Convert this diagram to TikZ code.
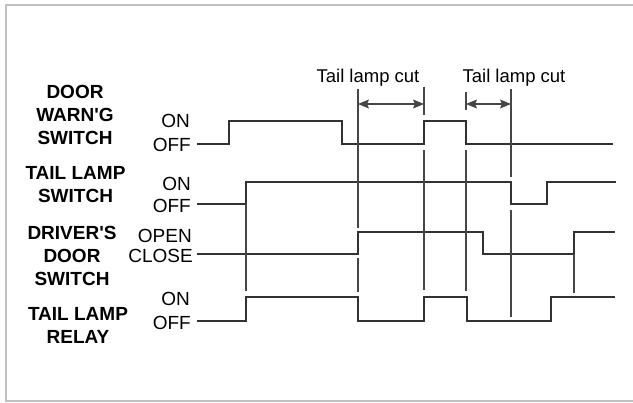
\documentclass[tikz,border=0pt]{standalone}
\usepackage{fontspec}
\setmainfont{Liberation Sans}
\usetikzlibrary{arrows.meta}
\definecolor{wave}{RGB}{50,50,50}
\definecolor{guide}{RGB}{70,70,70}
\definecolor{frame}{RGB}{192,192,192}

\begin{document}
\begin{tikzpicture}[x=1pt, y=-1pt, >={Stealth[length=11pt, width=9pt, inset=2pt]},
  sig/.style={wave, line width=1.5pt},
  gline/.style={guide, line width=1.1pt},
  sigtitle/.style={font=\bfseries\fontsize{19}{23}\selectfont, align=center, inner sep=0pt},
  statelbl/.style={font=\fontsize{19}{23}\selectfont, anchor=base east, inner sep=0pt},
  cutlbl/.style={font=\fontsize{18.5}{22}\selectfont, anchor=base, inner sep=0pt}]
  \useasboundingbox (0,0) rectangle (633,403);
  % frame
  \draw[frame, line width=2pt] (640,5) -- (6,5) -- (6,401) -- (640,401);

  % signal names
  \node[sigtitle] (dws) at (75,115) {DOOR\\WARN\textquotesingle G\\SWITCH};
  \node[sigtitle] (tls) at (75.5,184.5) {TAIL LAMP\\SWITCH};
  \node[sigtitle] (dds) at (72,256) {DRIVER\textquotesingle S\\DOOR\\SWITCH};
  \node[sigtitle] (tlr) at (78,325.5) {TAIL LAMP\\RELAY};

  % states
  \node[statelbl] (on1) at (190,128) {ON};
  \node[statelbl] (off1) at (191,152) {OFF};
  \node[statelbl] (on2) at (191,191) {ON};
  \node[statelbl] (off2) at (191,213) {OFF};
  \node[statelbl] (open3) at (192,243) {OPEN};
  \node[statelbl] (close3) at (193,263) {CLOSE};
  \node[statelbl] (on4) at (190,306) {ON};
  \node[statelbl] (off4) at (191,330) {OFF};

  % waveforms
  \draw[sig] (197,144) -- (229,144) -- (229,121) -- (342,121) -- (342,144)
    -- (424,144) -- (424,121) -- (466,121) -- (466,144) -- (613,144);
  \draw[sig] (197,204) -- (246,204) -- (246,182) -- (511,182) -- (511,204)
    -- (547,204) -- (547,182) -- (616,182);
  \draw[sig] (197,254) -- (358,254) -- (358,232) -- (483,232) -- (483,254)
    -- (574,254) -- (574,232) -- (615,232);
  \draw[sig] (197,321) -- (246,321) -- (246,297) -- (358,297) -- (358,321)
    -- (424,321) -- (424,297) -- (467,297) -- (467,321) -- (551,321)
    -- (551,297) -- (615,297);

  % timing guides
  \draw[gline] (246,204) -- (246,291);
  \draw[gline] (358,89) -- (358,228) (358,258) -- (358,292);
  \draw[gline] (424,87) -- (424,115) (424,150) -- (424,290);
  \draw[gline] (466,92) -- (466,110) (466,150) -- (466,291);
  \draw[gline] (511,89) -- (511,177) (511,210) -- (511,317);
  \draw[gline] (574,254) -- (574,293);

  % tail lamp cut intervals
  \coordinate (c1) at (358,104);
  \coordinate (c2) at (424,104);
  \coordinate (c3) at (466,104);
  \coordinate (c4) at (511,104);
  \draw[<->, gline] (c1) -- (c2);
  \draw[<->, gline] (c3) -- (c4);
  \node[cutlbl] (cut1) at (368,83) {Tail lamp cut};
  \node[cutlbl] (cut2) at (514,83) {Tail lamp cut};
\end{tikzpicture}
\end{document}
